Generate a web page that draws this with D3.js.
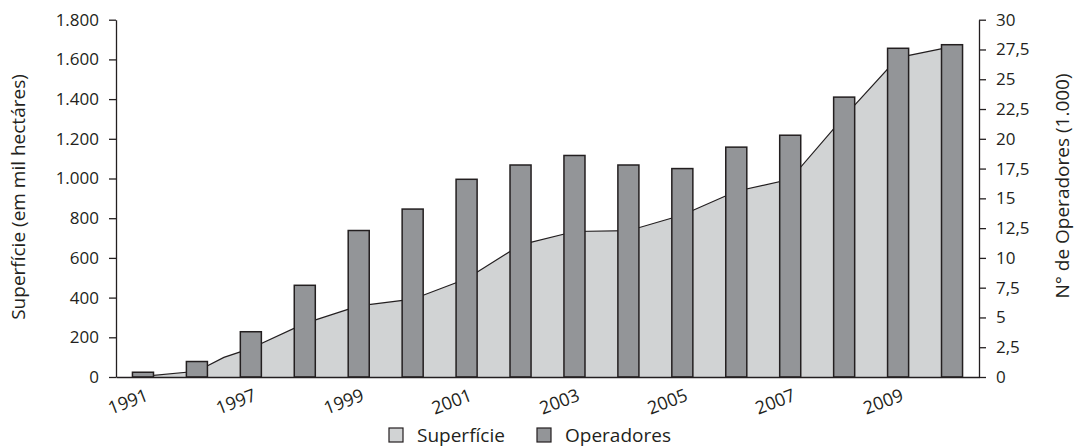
<!DOCTYPE html>
<html lang="pt">
<head>
<meta charset="UTF-8">
<title>Superfície e Operadores</title>
<script src="https://d3js.org/d3.v7.min.js"></script>
<style>
    body {
        margin: 0;
        background-color: #ffffff;
    }
    svg text {
        font-family: "Open Sans", sans-serif;
        fill: #231f20;
    }
    .axis path, .axis line {
        stroke: #231f20;
        stroke-width: 1.3;
    }
    .axis text {
        font-size: 17px;
    }
    .titulo, .legenda {
        font-size: 19px;
    }
</style>
</head>
<body>
<svg width="1075" height="447"></svg>
<script>
// anos com barra (o eixo mostra um rótulo sim, outro não)
var anos = ["1991", "1995", "1997", "1998", "1999", "2000", "2001", "2002",
            "2003", "2004", "2005", "2006", "2007", "2008", "2009", "2010"];
// operadores, em milhares (eixo direito)
var operadores = [0.4, 1.3, 3.8, 7.7, 12.3, 14.1, 16.6, 17.8,
                  18.6, 17.8, 17.5, 19.3, 20.3, 23.5, 27.6, 27.9];
// superfície, em mil hectares (eixo esquerdo) - inclui 1996, que não tem barra
var anosSuperficie = ["1991", "1995", "1996", "1997", "1998", "1999", "2000", "2001", "2002",
                      "2003", "2004", "2005", "2006", "2007", "2008", "2009", "2010"];
var superficie = [3, 29, 99, 144, 270, 358, 392, 495, 666,
                  733, 737, 816, 936, 996, 1312, 1609, 1664];
var ticksEsq = [0, 200, 400, 600, 800, 1000, 1200, 1400, 1600, 1800];
var ticksDir = [0, 2.5, 5, 7.5, 10, 12.5, 15, 17.5, 20, 22.5, 25, 27.5, 30];

var svg = d3.select("svg");
var margem = {esq: 116, dir: 979, topo: 19.7, base: 377};

var x = d3.scaleBand()
    .domain(anos)
    .range([margem.esq, margem.dir])
    .paddingInner(0.61)
    .paddingOuter(0.305);

var yL = d3.scaleLinear().domain([0, 1800]).range([margem.base, margem.topo]);
var yR = d3.scaleLinear().domain([0, 30]).range([margem.base, margem.topo]);

function cx(ano) {
    if (x(ano) !== undefined) return x(ano) + x.bandwidth() / 2;
    // ano sem barra: fica a meio caminho entre os vizinhos
    var i = anosSuperficie.indexOf(ano);
    return (cx(anosSuperficie[i - 1]) + cx(anosSuperficie[i + 1])) / 2;
}

var pontos = anosSuperficie.map(function(a, i) { return [a, superficie[i]]; });

var area = d3.area()
    .x(function(d) { return cx(d[0]); })
    .y0(margem.base)
    .y1(function(d) { return yL(d[1]); });

var linha = d3.line()
    .x(function(d) { return cx(d[0]); })
    .y(function(d) { return yL(d[1]); });

svg.append("path")
    .datum(pontos)
    .attr("d", area)
    .attr("fill", "#d1d3d4");

svg.append("path")
    .datum(pontos)
    .attr("d", linha)
    .attr("fill", "none")
    .attr("stroke", "#231f20")
    .attr("stroke-width", 1.2);

svg.append("g").selectAll("rect")
    .data(anos)
    .join("rect")
    .attr("x", function(d) { return x(d); })
    .attr("width", x.bandwidth())
    .attr("y", function(d, i) { return yR(operadores[i]); })
    .attr("height", function(d, i) { return margem.base - yR(operadores[i]); })
    .attr("fill", "#939598")
    .attr("stroke", "#231f20")
    .attr("stroke-width", 1.5);

// eixos
var fmtEsq = function(d) { return d3.format(",")(d).replace(/,/g, "."); };
var fmtDir = function(d) { return String(d).replace(".", ","); };

svg.append("g")
    .attr("class", "axis")
    .attr("transform", "translate(" + margem.esq + ",0)")
    .call(d3.axisLeft(yL).tickValues(ticksEsq).tickFormat(fmtEsq)
        .tickSize(7).tickSizeOuter(0).tickPadding(10));

svg.append("g")
    .attr("class", "axis")
    .attr("transform", "translate(" + margem.dir + ",0)")
    .call(d3.axisRight(yR).tickValues(ticksDir).tickFormat(fmtDir)
        .tickSize(7).tickSizeOuter(0).tickPadding(10));

var gx = svg.append("g")
    .attr("class", "axis")
    .attr("transform", "translate(0," + margem.base + ")")
    .call(d3.axisBottom(x)
        .tickValues(anos.filter(function(d, i) { return i % 2 === 0; }))
        .tickSize(0).tickSizeOuter(0));

gx.selectAll(".tick text")
    .attr("text-anchor", "end")
    .attr("x", 0)
    .attr("y", 0)
    .attr("dy", 0)
    .style("font-size", "18px")
    .attr("transform", "translate(" + (x.bandwidth() / 2 - 4) + ",23) rotate(-21)");

// títulos dos eixos
svg.append("text")
    .attr("class", "titulo")
    .attr("text-anchor", "middle")
    .attr("transform", "translate(25,197) rotate(-90)")
    .text("Superfície (em mil hectáres)");

svg.append("text")
    .attr("class", "titulo")
    .attr("text-anchor", "middle")
    .attr("transform", "translate(1069,186) rotate(-90)")
    .text("N° de Operadores (1.000)");

// legenda
var legenda = [
    {nome: "Superfície", cor: "#d1d3d4", x: 389},
    {nome: "Operadores", cor: "#939598", x: 537}
];
var lg = svg.append("g").selectAll("g")
    .data(legenda)
    .join("g")
    .attr("transform", function(d) { return "translate(" + d.x + ",428)"; });

lg.append("rect")
    .attr("width", 14)
    .attr("height", 14)
    .attr("fill", function(d) { return d.cor; })
    .attr("stroke", "#231f20")
    .attr("stroke-width", 1.2);

lg.append("text")
    .attr("class", "legenda")
    .attr("x", 28)
    .attr("y", 14)
    .text(function(d) { return d.nome; });
</script>
</body>
</html>
